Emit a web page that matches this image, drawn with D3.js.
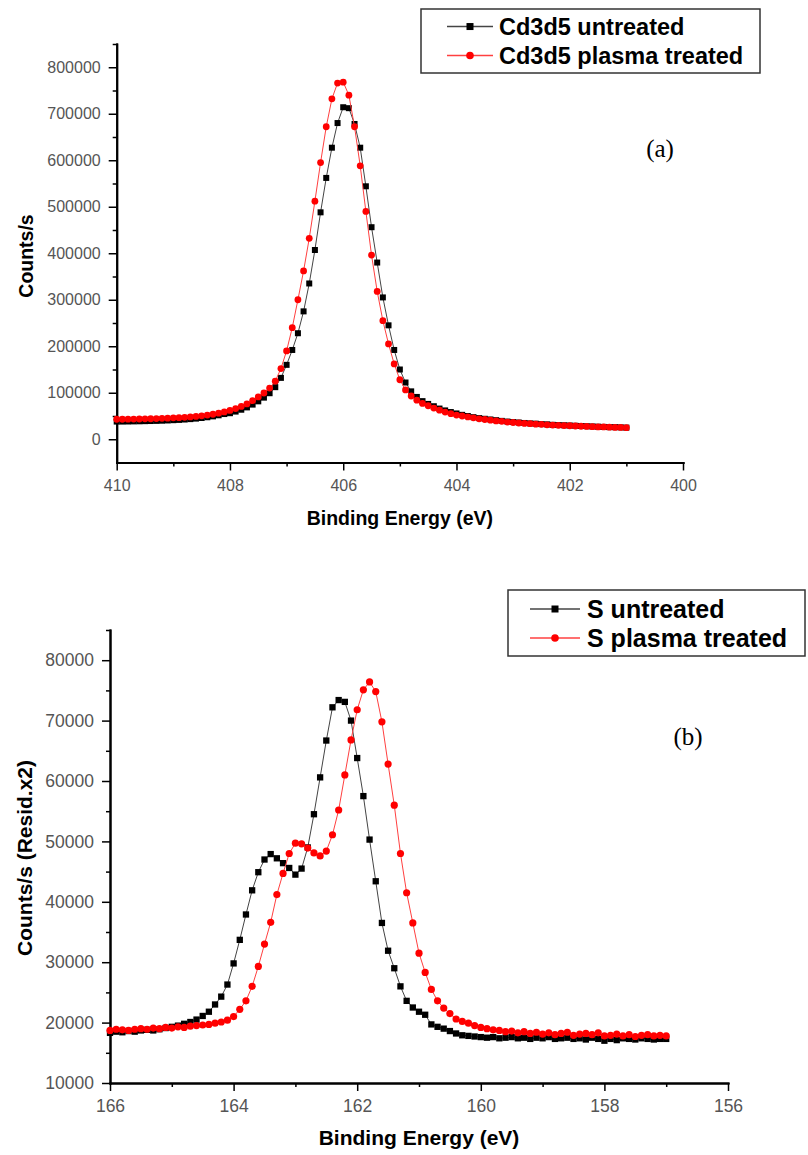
<!DOCTYPE html>
<html>
<head>
<meta charset="utf-8">
<script src="https://cdn.jsdelivr.net/npm/d3@7"></script>
<style>
    body { margin: 0; background: #fff; }
    svg { display: block; font-family: "Liberation Sans", Arial, sans-serif; }
    .domain { stroke: #000; stroke-width: 2; stroke-linecap: square; }
    .tick line { stroke: #000; stroke-width: 1.5; }
    .tick text { fill: #555; font-family: "Liberation Sans", Arial, sans-serif; }
</style>
</head>
<body>
<div id="chart"></div>
<script>
// ---- (a) Cd3d5 ----
var cdEnergy = [
    410.0, 409.9, 409.8, 409.7, 409.6, 409.5, 409.4, 409.3, 409.2, 409.1,
    409.0, 408.9, 408.8, 408.7, 408.6, 408.5, 408.4, 408.3, 408.2, 408.1,
    408.0, 407.9, 407.8, 407.7, 407.6, 407.5, 407.4, 407.3, 407.2, 407.1,
    407.0, 406.9, 406.8, 406.7, 406.6, 406.5, 406.4, 406.3, 406.2, 406.1,
    406.0, 405.9, 405.8, 405.7, 405.6, 405.5, 405.4, 405.3, 405.2, 405.1,
    405.0, 404.9, 404.8, 404.7, 404.6, 404.5, 404.4, 404.3, 404.2, 404.1,
    404.0, 403.9, 403.8, 403.7, 403.6, 403.5, 403.4, 403.3, 403.2, 403.1,
    403.0, 402.9, 402.8, 402.7, 402.6, 402.5, 402.4, 402.3, 402.2, 402.1,
    402.0, 401.9, 401.8, 401.7, 401.6, 401.5, 401.4, 401.3, 401.2, 401.1,
    401.0];
var cdUntreated = [
    38000, 38000, 38200, 38400, 38600, 38900, 39200, 39500, 39900, 40400,
    41000, 41600, 42400, 43300, 44400, 45700, 47300, 49200, 51500, 54200,
    56000, 59500, 63500, 68500, 74500, 81500, 89500, 99000, 112000, 132000,
    160000, 192000, 228000, 275000, 335000, 407000, 488000, 562000, 627000, 680000,
    714000, 712000, 678000, 627000, 544000, 456000, 380000, 305000, 245000, 192000,
    150000, 122000, 103000, 91000, 82000, 76000, 71000, 66000, 62000, 58500,
    55500, 52500, 50000, 47500, 45500, 44000, 42500, 41000, 39500, 38000,
    37000, 36000, 35000, 34000, 33500, 32500, 32000, 31000, 30500, 30000,
    29500, 29000, 28500, 28000, 27500, 27000, 26500, 26000, 26000, 25500,
    25000];
var cdPlasma = [
    43000, 43000, 43200, 43300, 43500, 44000, 44100, 44500, 45000, 45400,
    46000, 46500, 47100, 48000, 49000, 50300, 52000, 53800, 56000, 58800,
    62000, 66000, 70500, 76000, 83000, 91000, 99500, 110000, 125000, 152000,
    190000, 240000, 300000, 362000, 432000, 512000, 595000, 672000, 732000, 766000,
    768000, 740000, 672000, 588000, 490000, 396000, 318000, 255000, 205000, 162000,
    128000, 106000, 93000, 84000, 77000, 72000, 67000, 62500, 58500, 55000,
    52000, 50000, 48000, 46000, 44000, 42500, 41000, 39500, 38500, 37000,
    36000, 35000, 34000, 33500, 32500, 32000, 31000, 30500, 30000, 29500,
    29000, 28500, 28000, 27500, 27000, 26500, 26500, 26000, 25500, 25500,
    25000];
var cdXTicks = [410, 408, 406, 404, 402, 400];
var cdXMinor = [409, 407, 405, 403, 401];
var cdYTicks = [0, 100000, 200000, 300000, 400000, 500000, 600000, 700000, 800000];
var cdYMinor = [50000, 150000, 250000, 350000, 450000, 550000, 650000, 750000, 850000];

// ---- (b) S ----
var sEnergy = [
    166.0, 165.9, 165.8, 165.7, 165.6, 165.5, 165.4, 165.3, 165.2, 165.1,
    165.0, 164.9, 164.8, 164.7, 164.6, 164.5, 164.4, 164.3, 164.2, 164.1,
    164.0, 163.9, 163.8, 163.7, 163.6, 163.5, 163.4, 163.3, 163.2, 163.1,
    163.0, 162.9, 162.8, 162.7, 162.6, 162.5, 162.4, 162.3, 162.2, 162.1,
    162.0, 161.9, 161.8, 161.7, 161.6, 161.5, 161.4, 161.3, 161.2, 161.1,
    161.0, 160.9, 160.8, 160.7, 160.6, 160.5, 160.4, 160.3, 160.2, 160.1,
    160.0, 159.9, 159.8, 159.7, 159.6, 159.5, 159.4, 159.3, 159.2, 159.1,
    159.0, 158.9, 158.8, 158.7, 158.6, 158.5, 158.4, 158.3, 158.2, 158.1,
    158.0, 157.9, 157.8, 157.7, 157.6, 157.5, 157.4, 157.3, 157.2, 157.1,
    157.0];
var sUntreated = [
    18300, 18500, 18400, 18600, 18500, 18700, 18800, 18700, 18900, 19100,
    19300, 19500, 19800, 20100, 20500, 21100, 21800, 23000, 24300, 26300,
    29800, 33700, 37900, 41900, 44900, 47000, 47900, 47200, 46400, 45600,
    44500, 45500, 49000, 54500, 60600, 66700, 72200, 73400, 73100, 70000,
    63800, 57500, 50300, 43400, 36500, 31900, 29000, 26000, 23600, 22500,
    21800, 21300, 19700, 19300, 19000, 18600, 18200, 17900, 17800, 17700,
    17600, 17500, 17600, 17400, 17500, 17600, 17400, 17500, 17300, 17500,
    17400, 17600, 17300, 17400, 17500, 17300, 17400, 17200, 17500, 17300,
    17000, 17300, 17100, 17400, 17300, 17200, 17400, 17300, 17200, 17300,
    17300];
var sPlasma = [
    18700, 18900, 18800, 18700, 18900, 19000, 18900, 19100, 19000, 19200,
    19100, 19300, 19200, 19400, 19500, 19600, 19700, 19900, 20100, 20400,
    21000, 22200, 23600, 26000, 29300, 33000, 36600, 41200, 44700, 48000,
    49700, 49600, 48900, 48100, 47600, 48400, 51100, 55200, 61000, 66800,
    71800, 75100, 76400, 74800, 69800, 62800, 56000, 48000, 41500, 36500,
    31500, 28300, 25500, 23600, 22400, 21500, 20600, 20200, 19900, 19500,
    19200, 19000, 18800, 18700, 18500, 18600, 18300, 18500, 18200, 18400,
    18100, 18300, 18000, 18200, 18400, 17900, 18100, 18200, 18000, 18300,
    17800, 17900, 18100, 17800, 18000, 17700, 17900, 18000, 17800, 17900,
    17800];
var sXTicks = [166, 164, 162, 160, 158, 156];
var sXMinor = [165, 163, 161, 159, 157];
var sYTicks = [10000, 20000, 30000, 40000, 50000, 60000, 70000, 80000];
var sYMinor = [15000, 25000, 35000, 45000, 55000, 65000, 75000, 85000];

var svg = d3.select("#chart").append("svg")
    .attr("width", 808)
    .attr("height", 1155);

function drawPanel(settings) {
    var x = d3.scaleLinear().domain(settings.xDomain).range([settings.left, settings.right]);
    var y = d3.scaleLinear().domain(settings.yDomain).range([settings.bottom, settings.top]);
    var g = svg.append("g");

    // minor ticks first, major ticks with labels on top
    g.append("g")
        .attr("transform", "translate(0," + settings.bottom + ")")
        .call(d3.axisBottom(x).tickValues(settings.xMinor).tickSize(4).tickSizeOuter(0).tickFormat(""));
    g.append("g")
        .attr("transform", "translate(" + settings.left + ",0)")
        .call(d3.axisLeft(y).tickValues(settings.yMinor).tickSize(4).tickSizeOuter(0).tickFormat(""));

    g.append("g")
        .attr("class", "xAxis")
        .attr("transform", "translate(0," + settings.bottom + ")")
        .call(d3.axisBottom(x).tickValues(settings.xTicks).tickSize(8).tickPadding(9).tickSizeOuter(0).tickFormat(d3.format("d")))
        .selectAll("text")
        .style("font-size", settings.tickFont + "px");
    g.append("g")
        .attr("class", "yAxis")
        .attr("transform", "translate(" + settings.left + ",0)")
        .call(d3.axisLeft(y).tickValues(settings.yTicks).tickSize(8).tickPadding(8).tickSizeOuter(0).tickFormat(d3.format("d")))
        .selectAll("text")
        .style("font-size", settings.tickFont + "px");

    // axis titles
    g.append("text")
        .attr("x", (settings.left + settings.right) / 2)
        .attr("y", settings.xTitleY)
        .attr("text-anchor", "middle")
        .style("font-size", settings.titleFont + "px")
        .style("font-weight", "bold")
        .text("Binding Energy (eV)");
    g.append("text")
        .attr("transform", "translate(" + settings.yTitleX + "," + settings.yTitleMid + ") rotate(-90)")
        .attr("text-anchor", "middle")
        .style("font-size", settings.titleFont + "px")
        .style("font-weight", "bold")
        .text(settings.yTitle);

    // series: black squares, then red circles on top
    settings.series.forEach(function(s) {
        var pts = s.energy.map(function(e, i) { return {e: e, v: s.values[i]}; });
        var valueline = d3.line()
            .x(function(d) { return x(d.e); })
            .y(function(d) { return y(d.v); });
        g.append("path")
            .datum(pts)
            .style("fill", "none")
            .style("stroke", s.lineColor)
            .style("stroke-width", 1)
            .attr("d", valueline);
        if (s.shape === "square") {
            g.selectAll("rect.pt" + s.id)
                .data(pts)
                .enter().append("rect")
                .attr("class", "pt" + s.id)
                .attr("x", function(d) { return x(d.e) - settings.sq / 2; })
                .attr("y", function(d) { return y(d.v) - settings.sq / 2; })
                .attr("width", settings.sq)
                .attr("height", settings.sq)
                .style("fill", s.color);
        } else {
            g.selectAll("circle.pt" + s.id)
                .data(pts)
                .enter().append("circle")
                .attr("class", "pt" + s.id)
                .attr("cx", function(d) { return x(d.e); })
                .attr("cy", function(d) { return y(d.v); })
                .attr("r", settings.r)
                .style("fill", s.color);
        }
    });

    // legend
    var lg = settings.legend;
    g.append("rect")
        .attr("x", lg.x).attr("y", lg.y)
        .attr("width", lg.w).attr("height", lg.h)
        .style("fill", "#fff")
        .style("stroke", "#333")
        .style("stroke-width", 1.5);
    settings.series.forEach(function(s, i) {
        var cy = lg.rowY[i] - lg.font * 0.36;
        g.append("line")
            .attr("x1", lg.lineX[0]).attr("x2", lg.lineX[1])
            .attr("y1", cy).attr("y2", cy)
            .style("stroke", s.lineColor)
            .style("stroke-width", 1.5);
        var mx = (lg.lineX[0] + lg.lineX[1]) / 2;
        if (s.shape === "square") {
            g.append("rect")
                .attr("x", mx - 3.5).attr("y", cy - 3.5)
                .attr("width", 7).attr("height", 7)
                .style("fill", s.color);
        } else {
            g.append("circle")
                .attr("cx", mx).attr("cy", cy).attr("r", 3.8)
                .style("fill", s.color);
        }
        g.append("text")
            .attr("x", lg.textX)
            .attr("y", lg.rowY[i])
            .style("font-size", lg.font + "px")
            .style("font-weight", "bold")
            .text(s.name);
    });

    // panel label
    g.append("text")
        .attr("x", settings.label.x)
        .attr("y", settings.label.y)
        .attr("text-anchor", "middle")
        .style("font-family", "'Liberation Serif', 'Times New Roman', serif")
        .style("font-size", "25px")
        .text(settings.label.text);
}

drawPanel({
    left: 116.7, right: 683, top: 44, bottom: 462.5,
    xDomain: [410, 400], yDomain: [-50000, 850000],
    xTicks: cdXTicks, xMinor: cdXMinor, yTicks: cdYTicks, yMinor: cdYMinor,
    tickFont: 16, titleFont: 19.5,
    xTitleY: 525, yTitleX: 33, yTitleMid: 256, yTitle: "Counts/s",
    sq: 6, r: 3.4,
    series: [
        {id: "a0", name: "Cd3d5 untreated", energy: cdEnergy, values: cdUntreated, shape: "square", color: "#000", lineColor: "#444"},
        {id: "a1", name: "Cd3d5 plasma treated", energy: cdEnergy, values: cdPlasma, shape: "circle", color: "#ff0000", lineColor: "#ff4040"}
    ],
    legend: {x: 421, y: 9, w: 339, h: 64, lineX: [447, 493], textX: 499, rowY: [35, 64], font: 23.5},
    label: {text: "(a)", x: 660, y: 157}
});

drawPanel({
    left: 110, right: 728, top: 630, bottom: 1083,
    xDomain: [166, 156], yDomain: [10000, 85000],
    xTicks: sXTicks, xMinor: sXMinor, yTicks: sYTicks, yMinor: sYMinor,
    tickFont: 17.5, titleFont: 21,
    xTitleY: 1145, yTitleX: 32, yTitleMid: 858, yTitle: "Counts/s (Resid.x2)",
    sq: 6.3, r: 3.6,
    series: [
        {id: "b0", name: "S untreated", energy: sEnergy, values: sUntreated, shape: "square", color: "#000", lineColor: "#444"},
        {id: "b1", name: "S plasma treated", energy: sEnergy, values: sPlasma, shape: "circle", color: "#ff0000", lineColor: "#ff4040"}
    ],
    legend: {x: 508, y: 590, w: 297, h: 66, lineX: [530, 580], textX: 587, rowY: [618, 647], font: 25},
    label: {text: "(b)", x: 688, y: 745}
});
</script>
</body>
</html>
